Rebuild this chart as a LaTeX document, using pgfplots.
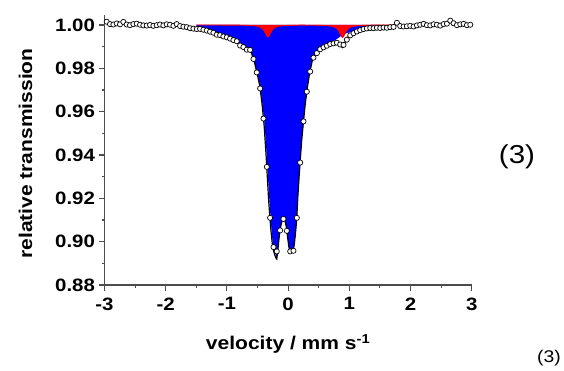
\documentclass[border=0pt]{standalone}
\usepackage{fontspec}
\setmainfont{Liberation Sans}[FakeStretch=1.14]
\usepackage{pgfplots}
\pgfplotsset{compat=1.18}
\begin{document}
\begin{tikzpicture}
\useasboundingbox (0,0) rectangle (564bp,371bp);
\begin{axis}[
  at={(104.5bp,86bp)}, anchor=south west,
  scale only axis, width=367.2bp, height=270bp,
  xmin=-3, xmax=3, ymin=0.88, ymax=1.0046,
  axis lines=left,
  axis line style={-, draw=black!70, line width=1.1pt},
  tick style={draw=black!70, line width=1.1pt},
  tick align=outside,
  major tick length=6bp, minor tick length=3bp,
  xtick={-3,-2,-1,0,1,2,3},
  xticklabels={-3,-2,-1,0,1,2,3},
  ytick={0.88,0.90,0.92,0.94,0.96,0.98,1.00},
  yticklabels={0.88,0.90,0.92,0.94,0.96,0.98,1.00},
  minor x tick num=1, minor y tick num=1,
  tick label style={font=\bfseries\fontsize{18}{20}\selectfont},
  xticklabel style={yshift=-3bp},
  xlabel={velocity / mm s\textsuperscript{-1}},
  ylabel={relative transmission},
  label style={font=\bfseries\fontsize{18.5}{21}\selectfont},
  xlabel style={at={(axis description cs:0.5,-0.2407)}, anchor=base},
  ylabel style={at={(axis description cs:-0.197,0.487)}, anchor=base},
  clip=true,
]
% blue component
\addplot[fill=blue, draw=none] coordinates {
(-1.50,1.0000) (-1.50,0.9982) (-1.40,0.9979) (-1.30,0.9972) (-1.20,0.9964) (-1.10,0.9955)
(-1.00,0.9945) (-0.90,0.9934) (-0.80,0.9913) (-0.70,0.9898) (-0.65,0.9889) (-0.60,0.9875)
(-0.55,0.9832) (-0.50,0.9774) (-0.46,0.9725) (-0.42,0.9637) (-0.39,0.9558) (-0.36,0.9444)
(-0.34,0.9354) (-0.32,0.9254) (-0.30,0.9164) (-0.28,0.9083) (-0.26,0.9018) (-0.24,0.8977)
(-0.22,0.8953) (-0.20,0.8935) (-0.185,0.8928) (-0.17,0.8962) (-0.15,0.9016) (-0.13,0.9060)
(-0.11,0.9089) (-0.09,0.9103) (-0.07,0.9108) (-0.05,0.9098) (-0.03,0.9072) (-0.01,0.9027)
(0.01,0.8982) (0.03,0.8957) (0.045,0.8952) (0.06,0.8952) (0.08,0.8956) (0.10,0.8986)
(0.12,0.9036) (0.14,0.9101) (0.16,0.9211) (0.18,0.9301) (0.20,0.9381) (0.22,0.9461)
(0.25,0.9551) (0.28,0.9636) (0.31,0.9703) (0.35,0.9776) (0.40,0.9843) (0.45,0.9868)
(0.50,0.9885) (0.55,0.9896) (0.60,0.9904) (0.65,0.9911) (0.70,0.9918) (0.75,0.9926)
(0.79,0.9934) (0.82,0.9940) (0.85,0.9946) (0.87,0.9950) (0.89,0.9953) (0.91,0.9956)
(0.93,0.9959) (0.96,0.9963) (1.00,0.9965) (1.05,0.9969) (1.10,0.9974) (1.20,0.9984)
(1.30,0.9992) (1.40,0.9997) (1.50,1.0000)
};
% red component
\addplot[fill=red, draw=red, line width=0.9pt] coordinates {
(-1.50,1.0000) (-1.00,0.99995) (-0.80,0.9999) (-0.70,0.99985) (-0.65,0.9998) (-0.60,0.99973)
(-0.55,0.99961) (-0.50,0.99938) (-0.46,0.99902) (-0.42,0.9983) (-0.39,0.99724) (-0.37,0.9962)
(-0.36,0.9956) (-0.35,0.99505) (-0.34,0.99465) (-0.33,0.9945) (-0.32,0.99465) (-0.31,0.99505)
(-0.30,0.9956) (-0.29,0.9962) (-0.28,0.99675) (-0.26,0.99767) (-0.24,0.99831) (-0.22,0.99874)
(-0.20,0.99903) (-0.17,0.99932) (-0.13,0.99955) (-0.07,0.9997) (0.00,0.9998) (0.20,0.9999)
(0.40,0.99988) (0.50,0.99984) (0.60,0.99975) (0.65,0.99964) (0.70,0.99946) (0.75,0.9991)
(0.79,0.99848) (0.82,0.99758) (0.84,0.99664) (0.85,0.99605) (0.86,0.9954) (0.87,0.99487)
(0.88,0.99446) (0.89,0.9943) (0.90,0.99446) (0.91,0.99487) (0.92,0.99544) (0.93,0.99605)
(0.94,0.99664) (0.96,0.99758) (1.00,0.99869) (1.05,0.9993) (1.10,0.99957) (1.20,0.99979)
(1.40,0.99992) (1.70,0.99997) (1.70,1.0000)
};
% total fit
\addplot[black, line width=1.2pt] coordinates {
(-1.50,0.9982) (-1.40,0.9979) (-1.30,0.9972) (-1.20,0.9964) (-1.10,0.9955) (-1.00,0.9945)
(-0.90,0.9933) (-0.80,0.9912) (-0.70,0.9896) (-0.65,0.9887) (-0.60,0.9872) (-0.55,0.9828)
(-0.50,0.9768) (-0.46,0.9715) (-0.42,0.9620) (-0.39,0.9530) (-0.36,0.9400) (-0.34,0.9300)
(-0.32,0.9200) (-0.30,0.9120) (-0.28,0.9050) (-0.26,0.8995) (-0.24,0.8960) (-0.22,0.8940)
(-0.20,0.8925) (-0.185,0.8920) (-0.17,0.8955) (-0.15,0.9010) (-0.13,0.9055) (-0.11,0.9085)
(-0.09,0.9100) (-0.07,0.9105) (-0.05,0.9095) (-0.03,0.9070) (-0.01,0.9025) (0.01,0.8980)
(0.03,0.8955) (0.045,0.8950) (0.06,0.8950) (0.08,0.8955) (0.10,0.8985) (0.12,0.9035)
(0.14,0.9100) (0.16,0.9210) (0.18,0.9300) (0.20,0.9380) (0.22,0.9460) (0.25,0.9550)
(0.28,0.9635) (0.31,0.9702) (0.35,0.9775) (0.40,0.9842) (0.45,0.9867) (0.50,0.9883)
(0.55,0.9894) (0.60,0.9901) (0.65,0.9907) (0.70,0.9913) (0.75,0.9917) (0.79,0.9919)
(0.82,0.9916) (0.85,0.9906) (0.87,0.9899) (0.89,0.9896) (0.91,0.9905) (0.93,0.9919)
(0.96,0.9939) (1.00,0.9952) (1.05,0.9962) (1.10,0.9970) (1.20,0.9980) (1.30,0.9988)
(1.40,0.9992) (1.50,0.9994) (1.60,0.9995) (1.70,0.9996)
};
% measured data
\addplot[only marks, mark=*, mark size=2.6pt,
  mark options={fill=white, draw=black, line width=0.7pt}] coordinates {
(-2.964,1.0015) (-2.910,1.0004) (-2.855,1.0002) (-2.801,1.0007) (-2.746,1.0003) (-2.692,1.0014)
(-2.637,1.0002) (-2.583,0.9999) (-2.528,1.0004) (-2.474,1.0006) (-2.419,1.0001) (-2.365,0.9998)
(-2.310,0.9997) (-2.256,1.0000) (-2.201,0.9996) (-2.147,0.9999) (-2.092,1.0002) (-2.038,0.9998)
(-1.983,1.0003) (-1.929,1.0001) (-1.874,0.9996) (-1.820,1.0004) (-1.765,0.9995) (-1.711,0.9992)
(-1.656,0.9990) (-1.602,0.9985) (-1.547,0.9983) (-1.493,0.9981) (-1.438,0.9982) (-1.384,0.9978)
(-1.329,0.9974) (-1.275,0.9969) (-1.220,0.9964) (-1.166,0.9955) (-1.111,0.9953) (-1.057,0.9947)
(-1.002,0.9943) (-0.948,0.9937) (-0.893,0.9930) (-0.839,0.9925) (-0.784,0.9905) (-0.730,0.9898)
(-0.675,0.9886) (-0.621,0.9885) (-0.566,0.9843) (-0.512,0.9781) (-0.457,0.9707) (-0.403,0.9568)
(-0.348,0.9345) (-0.294,0.9110) (-0.239,0.8975) (-0.185,0.8955) (-0.130,0.9052) (-0.076,0.9105)
(-0.021,0.9050) (0.034,0.8955) (0.088,0.8958) (0.143,0.9110) (0.197,0.9365) (0.252,0.9555)
(0.306,0.9692) (0.361,0.9785) (0.415,0.9849) (0.470,0.9870) (0.524,0.9888) (0.579,0.9897)
(0.633,0.9904) (0.688,0.9912) (0.742,0.9915) (0.797,0.9918) (0.851,0.9910) (0.906,0.9908)
(0.960,0.9932) (1.015,0.9952) (1.069,0.9962) (1.124,0.9970) (1.178,0.9976) (1.233,0.9981)
(1.287,0.9984) (1.342,0.9986) (1.396,0.9985) (1.451,0.9987) (1.505,0.9986) (1.560,0.9988)
(1.614,0.9987) (1.669,0.9990) (1.723,0.9991) (1.778,1.0010) (1.832,0.9995) (1.887,0.9993)
(1.941,0.9994) (1.996,0.9996) (2.050,0.9993) (2.105,0.9998) (2.159,1.0001) (2.214,1.0005)
(2.268,0.9999) (2.323,0.9998) (2.377,1.0003) (2.432,1.0001) (2.486,0.9997) (2.541,1.0004)
(2.595,1.0006) (2.650,1.0020) (2.704,1.0008) (2.759,0.9999) (2.813,1.0003) (2.868,1.0005)
(2.922,0.9999) (2.977,1.0001)
};
\end{axis}
\node[font=\fontsize{26}{29}\selectfont] at (517bp,214bp) {(3)};
\node[font=\fontsize{17}{19}\selectfont] at (549bp,13bp) {(3)};
\end{tikzpicture}
\end{document}
